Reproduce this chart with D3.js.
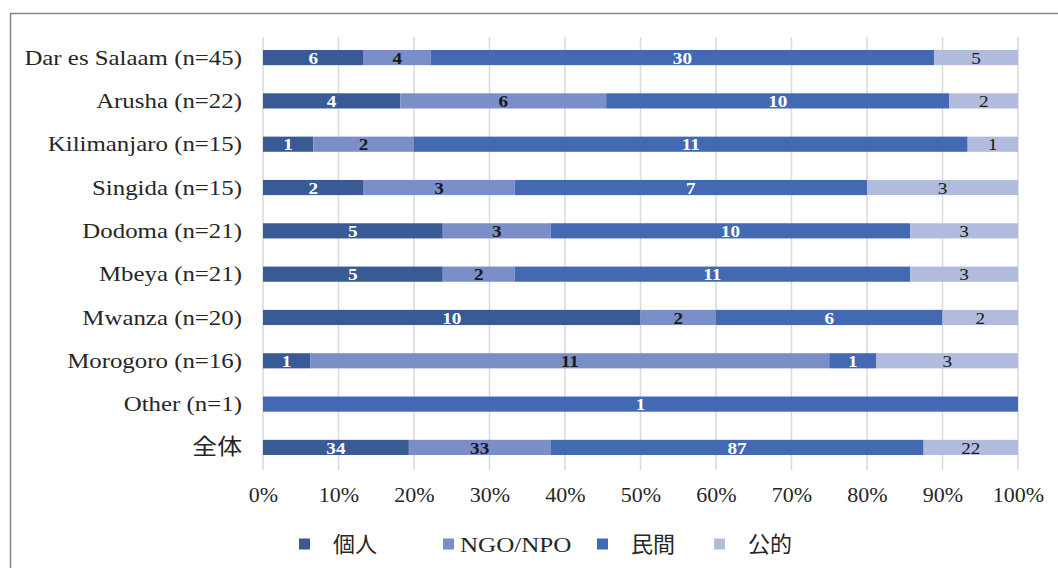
<!DOCTYPE html>
<html>
<head>
<meta charset="utf-8">
<script src="https://cdn.jsdelivr.net/npm/d3@7"></script>
<style>
body { margin: 0; background: #fff; }
svg { display: block; }
</style>
</head>
<body>
<svg id="chart" width="1058" height="568"></svg>
<script>
var categories = ["Dar es Salaam (n=45)", "Arusha (n=22)", "Kilimanjaro (n=15)", "Singida (n=15)",
  "Dodoma (n=21)", "Mbeya (n=21)", "Mwanza (n=20)", "Morogoro (n=16)", "Other (n=1)", "全体"];
var keys = ["個人", "NGO/NPO", "民間", "公的"];
var kojin  = [6, 4, 1, 2, 5, 5, 10, 1, 0, 34];
var ngo    = [4, 6, 2, 3, 3, 2, 2, 11, 0, 33];
var minkan = [30, 10, 11, 7, 10, 11, 6, 1, 1, 87];
var koteki = [5, 2, 1, 3, 3, 3, 2, 3, 0, 22];
var tickLabels = [0, 0.1, 0.2, 0.3, 0.4, 0.5, 0.6, 0.7, 0.8, 0.9, 1];

var colors = ["#385B96", "#7A8EC7", "#4269B1", "#B0BBDD"];
var labelFill = ["#fff", "#1a1a1a", "#fff", "#1a1a1a"];
var labelWeight = ["bold", "bold", "bold", "normal"];
var serif = "'Liberation Serif', 'Times New Roman', 'Noto Sans CJK JP', serif";
var stretch = 1.13;

var data = categories.map(function(c, i) {
  return {cat: c, "個人": kojin[i], "NGO/NPO": ngo[i], "民間": minkan[i], "公的": koteki[i]};
});

var svg = d3.select("#chart");

// frame
svg.append("path")
  .attr("d", "M10.5,568 V13.5 H1058")
  .attr("fill", "none")
  .attr("stroke", "#858585")
  .attr("stroke-width", 1.5);

var x = d3.scaleLinear().domain([0, 1]).range([263, 1018]);
var y = d3.scaleBand().domain(categories).range([37, 468]).paddingInner(0.65).paddingOuter(0.3);

var series = d3.stack().keys(keys).offset(d3.stackOffsetExpand)(data);

// grid
svg.append("g")
  .selectAll("line")
  .data(tickLabels)
  .enter().append("line")
    .attr("x1", function(d) { return x(d); })
    .attr("x2", function(d) { return x(d); })
    .attr("y1", 37)
    .attr("y2", 470)
    .attr("stroke", "#d9d9d9")
    .attr("stroke-width", 1.5);

var layer = svg.append("g")
  .selectAll("g")
  .data(series)
  .enter().append("g")
    .attr("fill", function(d, i) { return colors[i]; });

layer.selectAll("rect")
  .data(function(d) { return d; })
  .enter().append("rect")
    .attr("x", function(d) { return x(d[0]); })
    .attr("y", function(d) { return y(d.data.cat); })
    .attr("width", function(d) { return x(d[1]) - x(d[0]); })
    .attr("height", y.bandwidth());

layer.each(function(s, i) {
  d3.select(this).selectAll("text")
    .data(s.filter(function(d) { return d.data[s.key] > 0; }))
    .enter().append("text")
      .attr("transform", function(d) {
        return "translate(" + (x(d[0]) + x(d[1])) / 2 + "," + (y(d.data.cat) + y.bandwidth() / 2) + ") scale(" + stretch + ",1)";
      })
      .attr("dy", "0.36em")
      .attr("text-anchor", "middle")
      .attr("font-family", serif)
      .attr("font-size", 17)
      .attr("font-weight", labelWeight[i])
      .attr("fill", labelFill[i])
      .text(function(d) { return d.data[s.key]; });
});

// y axis labels
var yAxis = svg.append("g")
  .attr("transform", "translate(263,0)")
  .call(d3.axisLeft(y).tickSize(0));
yAxis.select(".domain").remove();
yAxis.selectAll("text")
  .attr("x", null)
  .attr("transform", "translate(-21,0) scale(" + stretch + ",1)")
  .attr("font-family", serif)
  .attr("font-size", 22)
  .attr("fill", "#262626");

// x axis
var xAxis = svg.append("g")
  .attr("transform", "translate(0,470)")
  .call(d3.axisBottom(x).tickValues(tickLabels).tickFormat(d3.format(".0%")).tickSize(0).tickPadding(16));
xAxis.select(".domain").remove();
xAxis.selectAll("text")
  .attr("font-family", serif)
  .attr("font-size", 22)
  .attr("fill", "#262626");

// legend
var legendX = [299, 443, 597, 714];
var legendGap = [34, 17, 34, 34];
var legend = svg.append("g")
  .selectAll("g")
  .data(keys)
  .enter().append("g")
    .attr("transform", function(d, i) { return "translate(" + legendX[i] + ",544)"; });

legend.append("rect")
  .attr("x", 0)
  .attr("y", -5.5)
  .attr("width", 11)
  .attr("height", 11)
  .attr("fill", function(d, i) { return colors[i]; });

legend.append("text")
  .attr("transform", function(d, i) { return "translate(" + legendGap[i] + ",0) scale(" + (i === 1 ? 1.14 : 1) + ",1)"; })
  .attr("dy", "0.35em")
  .attr("font-family", serif)
  .attr("font-size", function(d, i) { return i === 1 ? 22 : 22; })
  .attr("fill", "#262626")
  .text(function(d) { return d; });
</script>
</body>
</html>
